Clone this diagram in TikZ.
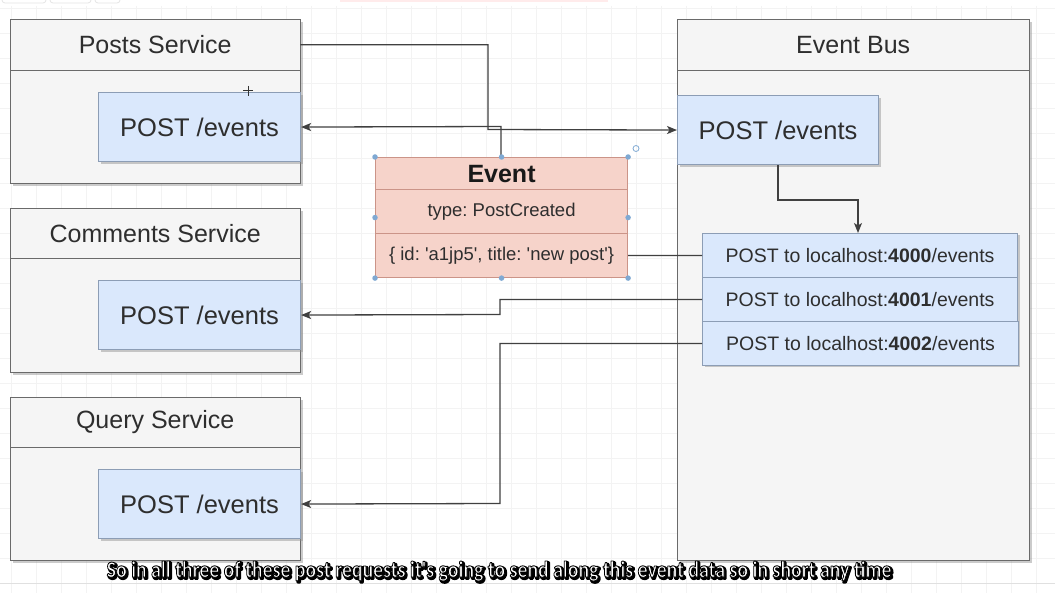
\documentclass[tikz,border=0pt]{standalone}
\usepackage{fontspec}
\usepackage{graphicx}
\setmainfont{Liberation Sans}
\newfontfamily\subfont{Carlito}
\usetikzlibrary{arrows.meta,shadows,calc}
\definecolor{boxfill}{HTML}{F5F5F5}
\definecolor{boxline}{HTML}{6A6A6A}
\definecolor{bluefill}{HTML}{DAE8FC}
\definecolor{blueline}{HTML}{8C9DB5}
\definecolor{redfill}{HTML}{F6D3CA}
\definecolor{redline}{HTML}{CB9488}
\definecolor{txt}{HTML}{2E2E2E}
\definecolor{handle}{HTML}{7FA9D3}
\definecolor{gridc}{HTML}{F3F3F3}
\newcommand{\subtext}{So in all three of these post requests it's going to send along this event data so in short any time}
\newcommand{\sq}{\textquotesingle}
\frenchspacing
\begin{document}
\begin{tikzpicture}[x=1pt,y=-1pt,
  shd/.style={drop shadow={shadow xshift=2.5pt,shadow yshift=-2.5pt,opacity=0.45,fill=black!45}},
  container/.style={draw=boxline,fill=boxfill,line width=1.2pt,anchor=north west,inner sep=0pt,shd},
  hdr/.style={anchor=north west,inner sep=0pt,minimum width=290pt,minimum height=51pt,text=txt,font=\fontsize{25}{30}\selectfont},
  ep/.style={draw=blueline,fill=bluefill,line width=1.1pt,anchor=north west,inner sep=0pt,minimum width=202pt,minimum height=69pt,text=txt,font=\fontsize{25.5}{30}\selectfont,shd},
  req/.style={draw=blueline,fill=bluefill,line width=1.1pt,anchor=north west,inner sep=0pt,minimum width=315pt,minimum height=44pt,text=txt,font=\fontsize{19.5}{24}\selectfont},
  evt/.style={draw=redline,fill=redfill,line width=1.1pt,anchor=north west,inner sep=0pt,minimum width=252pt,text=txt},
  conn/.style={draw=black!75,line width=1.3pt},
  hnd/.style={fill=handle,circle,inner sep=0pt,minimum size=5.5pt},
  subst/.style={inner sep=0pt,font=\subfont\bfseries\fontsize{23}{26}\selectfont},
  >={Stealth[length=10pt,width=8pt,inset=2.5pt]}
]
\useasboundingbox (0,0) rectangle (1055,593);
\fill[white] (0,0) rectangle (1055,593);
% faint grid
\foreach \gx in {11,36,...,1055} \draw[gridc,line width=0.6pt] (\gx,6) -- (\gx,593);
\foreach \gy in {8,33,...,593} \draw[gridc,line width=0.6pt] (0,\gy) -- (1055,\gy);
% top toolbar remnants
\draw[black!10,rounded corners=3pt,line width=0.8pt] (2,-6) rectangle (46,3);
\draw[black!10,rounded corners=3pt,line width=0.8pt] (50,-6) rectangle (91,3);
\draw[black!10,rounded corners=3pt,line width=0.8pt] (95,-6) rectangle (120,3);
\fill[red!8] (340,0) rectangle (608,2.5);
\draw[black!12,line width=0.8pt] (0,583) -- (1055,583);

% Posts Service
\node[container,minimum width=290pt,minimum height=164pt] (posts) at (10,19) {};
\node[hdr] (postsH) at (10,19) {Posts Service};
\draw[boxline,line width=1.2pt] (postsH.south west) -- (postsH.south east);
\node[ep] (postsPost) at (98,92) {POST /events};
% Comments Service
\node[container,minimum width=290pt,minimum height=164pt] (comments) at (10,208) {};
\node[hdr,minimum height=50pt] (commentsH) at (10,208) {Comments Service};
\draw[boxline,line width=1.2pt] (commentsH.south west) -- (commentsH.south east);
\node[ep] (commentsPost) at (98,280) {POST /events};
% Query Service
\node[container,minimum width=290pt,minimum height=163pt] (query) at (10,397) {};
\node[hdr,minimum height=50pt] (queryH) at (10,397) {Query Service};
\draw[boxline,line width=1.2pt] (queryH.south west) -- (queryH.south east);
\node[ep] (queryPost) at (98,469) {POST /events};
% Event Bus
\node[container,minimum width=352pt,minimum height=541pt] (bus) at (677,19) {};
\node[hdr,minimum width=352pt] (busH) at (677,19) {Event Bus};
\draw[boxline,line width=1.2pt] (busH.south west) -- (busH.south east);
\node[ep,minimum width=201pt] (busPost) at (677,95) {POST /events};
% request stack
\fill[black!45,opacity=0.45] (704.5,235.5) rectangle (1019.5,367.5);
\node[req] (r0) at (702,233) {POST to localhost:\textbf{4000}/events};
\node[req] (r1) at (702,277) {POST to localhost:\textbf{4001}/events};
\node[req,minimum width=316pt] (r2) at (702,321) {POST to localhost:\textbf{4002}/events};

% connectors
\coordinate (j1) at (488,129.5);
\coordinate (j2) at (501,126.5);
\coordinate (j3) at (500,314.5);
\coordinate (j4) at (500,503.5);
\coordinate (j5) at (858,200);
\draw[conn,->] (postsH.east) -| (j1) -- (busPost.west);
\draw[conn,->] (r0.west) -| (j2) -- (postsPost.east);
\draw[conn,->] (r1.west) -| (j3) -- (commentsPost.east);
\draw[conn,->] (r2.west) -| (j4) -- (queryPost.east);
\draw[conn,->] (busPost.south) |- (j5) -- (j5 |- r0.north);

% Event box
\node[evt,minimum height=32pt,font=\bfseries\fontsize{25}{30}\selectfont,text=black!90] (evTitle) at (375,157) {Event};
\node[evt,minimum height=44pt,font=\fontsize{18.5}{22}\selectfont] (evType) at (375,189) {type: PostCreated};
\node[evt,minimum height=44pt,font=\fontsize{18.5}{22}\selectfont] (evData) at (375,233) {\{ id: \sq a1jp5\sq, title: \sq new post\sq\}};
% selection handles
\coordinate (evMidL) at ($(evTitle.north west)!0.5!(evData.south west)$);
\coordinate (evMidR) at ($(evTitle.north east)!0.5!(evData.south east)$);
\foreach \p in {evTitle.north west,evTitle.north,evTitle.north east,evMidL,evMidR,evData.south west,evData.south,evData.south east}
  \node[hnd] at (\p) {};
\draw[handle,line width=0.8pt] (636,148.5) circle (3pt);
% cursor cross
\draw[black!80,line width=1pt] (243,91) -- (253,91) (248,86) -- (248,96);

% subtitle: black shadow copy, then white fill with black outline
\node[subst,text=black] (subShadow) at (500.5,572.5)
  {\special{pdf:literal direct 2 Tr 2.6 w 0 0 0 RG 1 j}\scalebox{0.86}[1]{\subtext}\special{pdf:literal direct 0 Tr}};
\node[subst,text=white] (sub) at (499,571)
  {\special{pdf:literal direct 2 Tr 0.9 w 0 0 0 RG 1 j}\scalebox{0.86}[1]{\subtext}\special{pdf:literal direct 0 Tr}};
\end{tikzpicture}
\end{document}
